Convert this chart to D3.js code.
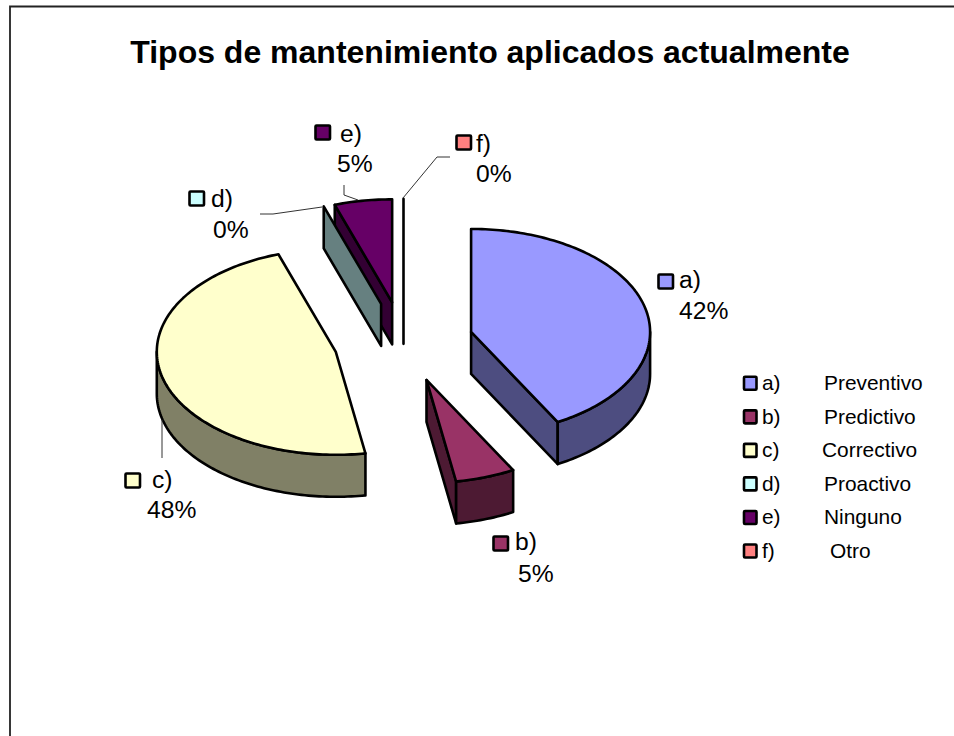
<!DOCTYPE html>
<html><head><meta charset="utf-8">
<script src="https://cdn.jsdelivr.net/npm/d3@7"></script>
<style>html,body{margin:0;padding:0;background:#fff}svg{display:block}text{font-family:"Liberation Sans",Arial,sans-serif;fill:#000}</style>
</head><body><svg id="c" width="954" height="736"></svg>
<script>
const title = "Tipos de mantenimiento aplicados actualmente";
const categories = ["a)","b)","c)","d)","e)","f)"];
const names = ["Preventivo","Predictivo","Correctivo","Proactivo","Ninguno","Otro"];
const values = [42,5.4,47.5,0,5.2,0];
const colors = ["#9999FF","#993366","#FFFFCC","#CCFFFF","#660066","#FF8080"];

const W=954,H=736;
const cx=403.5, cy=342, rx=179, ry=103, depth=42, explode=0.39;
const svg=d3.select("#c");
svg.append("path").attr("d",`M954,6.5H10V736`).attr("fill","none").attr("stroke","#222").attr("stroke-width",1.8);

const label=(x,y,fs,sx,t)=>svg.append("text").attr("transform",`translate(${x},${y}) scale(${sx},1)`).attr("font-size",fs).text(t);
label(490,63,32,1,title).attr("text-anchor","middle").attr("font-weight","bold");

const arcs=d3.pie().sort(null).startAngle(0).endAngle(2*Math.PI).value((_,i)=>values[i])(categories);
const proj=(a,r=1)=>[r*rx*Math.sin(a),-r*ry*Math.cos(a)];
const line=d3.line();
const rimPts=(s,e,o)=>{
  const n=Math.max(1,Math.ceil(Math.abs(e-s)/0.02));
  return d3.range(n+1).map(i=>{const p=proj(s+(e-s)*i/n);return [o[0]+p[0],o[1]+p[1]];});
};
const slices=arcs.map((d,i)=>{
  const mid=(d.startAngle+d.endAngle)/2, off=proj(mid,explode);
  return {i,s:d.startAngle,e:d.endAngle,mid,o:[cx+off[0],cy+off[1]]};
});
const shade=c=>{const k=d3.rgb(c);return d3.rgb(k.r/2,k.g/2,k.b/2).formatHex();};
const style=(sel,fill)=>sel.attr("fill",fill).attr("stroke","#000").attr("stroke-width",2.6).attr("stroke-linejoin","round");
const down=p=>[p[0],p[1]+depth];

const order=[4,3,5,2,1,0];
const g=svg.append("g");
order.forEach(k=>{
  const t=slices[k], col=colors[t.i], side=shade(col);
  const A=[t.o[0]+proj(t.s)[0],t.o[1]+proj(t.s)[1]];
  const B=[t.o[0]+proj(t.e)[0],t.o[1]+proj(t.e)[1]];
  const quad=P=>style(g.append("path").attr("d",line([t.o,P,down(P),down(t.o)])+"Z"),side);
  if(t.e-t.s<1e-6){ quad(A); }
  else{
    const M=proj(t.mid,1);
    [A,B].forEach(P=>{
      const ex=P[0]-t.o[0],ey=P[1]-t.o[1];
      let nx=-ey,ny=ex;
      if(nx*M[0]+ny*M[1]>0){nx=-nx;ny=-ny;}
      if(ny>1e-6) quad(P);
    });
    const s=Math.max(t.s,Math.PI/2), e=Math.min(t.e,3*Math.PI/2);
    if(e>s){
      const top=rimPts(s,e,t.o);
      style(g.append("path").attr("d",line(top.concat(top.slice().reverse().map(down)))+"Z"),side);
    }
    style(g.append("path").attr("d",line([t.o,...rimPts(t.s,t.e,t.o)])+"Z"),col);
  }
});

const leaders=[[[260,214],[273,214],[322,207]],[[344,185],[344,195],[358,200]],[[403,198],[437,157],[450,157]],[[162,420],[162,458]]];
leaders.forEach(p=>svg.append("path").attr("d",line(p)).attr("fill","none").attr("stroke","#333").attr("stroke-width",1));

// data labels: marker box, category x/baseline, percent x/baseline
const lab=[[657,273,679,288,679,319],[492,535,515,550,518,582],[124,472,152,488,147,518],[188,190,211,207,213,238],[314,124,340,142,337,172],[455,134,476,152,476,182]];
const lfs=23.5;
categories.forEach((c,i)=>{
  const l=lab[i];
  svg.append("rect").attr("x",l[0]+1.5).attr("y",l[1]+1.5).attr("width",14.5).attr("height",14).attr("rx",1).attr("fill",colors[i]).attr("stroke","#000").attr("stroke-width",2.6);
  label(l[2],l[3],lfs,1.05,c);
  label(l[4],l[5],lfs,1.05,Math.round(values[i])+"%");
});

// legend
const ly=d3.scalePoint().domain(categories).range([383.3,551]);
const nameX=[824,824,822,824,824,830];
categories.forEach((c,i)=>{
  const y=ly(c);
  svg.append("rect").attr("x",744).attr("y",y-6.5).attr("width",12.5).attr("height",13).attr("rx",1).attr("fill",colors[i]).attr("stroke","#000").attr("stroke-width",2.6);
  label(762,y+7,20.5,1.02,c);
  label(nameX[i],y+7,20.5,1.02,names[i]);
});
</script></body></html>
